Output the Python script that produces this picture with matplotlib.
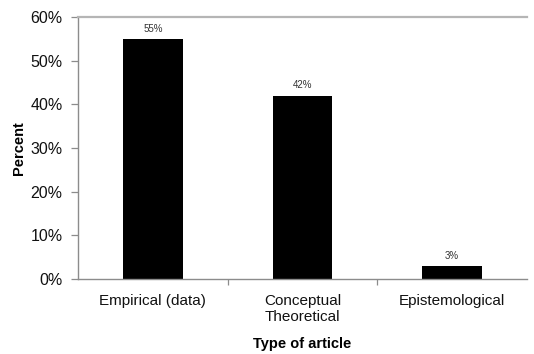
import matplotlib

matplotlib.use("Agg")
import matplotlib.pyplot as plt
from matplotlib.ticker import FixedLocator, FuncFormatter

plt.rcParams["font.family"] = ["Liberation Sans", "DejaVu Sans"]

categories = ["Empirical (data)", "Conceptual\nTheoretical", "Epistemological"]
percents = [55, 42, 3]
y_ticks = [0, 10, 20, 30, 40, 50, 60]

SPINE = "#8c8c8c"

fig = plt.figure(figsize=(5.34, 3.54), dpi=100)
ax = fig.add_axes([0.146, 0.212, 0.841, 0.740])

x = list(range(len(categories)))
ax.bar(x, percents, width=0.4, color="black", zorder=2)

for xi, v in zip(x, percents):
    ax.text(xi, v + 1.2, f"{v}%", ha="center", va="bottom", fontsize=7, color="#333333")

ax.set_xlim(-0.5, len(categories) - 0.5)
ax.set_ylim(0, 60)
ax.set_yticks(y_ticks)
ax.yaxis.set_major_formatter(FuncFormatter(lambda v, _: f"{v:.0f}%"))

ax.set_xticks(x)
ax.set_xticklabels(categories, fontsize=11, color="#111111", linespacing=1.2)
ax.tick_params(axis="x", which="major", length=0, pad=11)
ax.xaxis.set_minor_locator(FixedLocator([0.5, 1.5]))
ax.tick_params(axis="x", which="minor", length=4, color=SPINE, width=0.9)
ax.tick_params(axis="y", length=5, color=SPINE, width=0.9, labelsize=11.5,
               labelcolor="#111111", pad=6)

ax.spines["right"].set_visible(False)
ax.spines["top"].set_color("#b5b5b5")
ax.spines["top"].set_linewidth(1.6)
for side in ("left", "bottom"):
    ax.spines[side].set_color(SPINE)
    ax.spines[side].set_linewidth(1.0)

ax.set_ylabel("Percent", fontsize=10.5, fontweight="bold", labelpad=3)
ax.set_xlabel("Type of article", fontsize=10.5, fontweight="bold", labelpad=9)

fig.savefig("out.png", dpi=100, facecolor="white")
